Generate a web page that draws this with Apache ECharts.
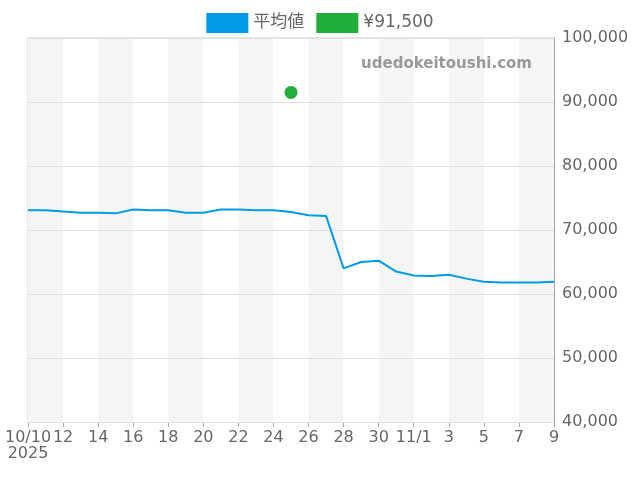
<!DOCTYPE html>
<html><head><meta charset="utf-8">
<script src="https://cdn.jsdelivr.net/npm/echarts@6/dist/echarts.min.js"></script>
<style>html,body{margin:0;padding:0}#c{width:640px;height:480px}</style>
</head><body><div id="c"></div>
<script>
var dates = ['10/10','10/11','10/12','10/13','10/14','10/15','10/16','10/17','10/18','10/19','10/20','10/21','10/22','10/23','10/24','10/25','10/26','10/27','10/28','10/29','10/30','10/31','11/1','11/2','11/3','11/4','11/5','11/6','11/7','11/8','11/9'];
var avgPrice = [73100,73100,72900,72700,72700,72600,73200,73100,73100,72700,72700,73200,73200,73100,73100,72800,72300,72200,64000,65000,65200,63500,62900,62800,63000,62400,61900,61800,61800,61800,61900];
var listing = [['10/25',91500]];

var chart = echarts.init(document.getElementById('c'));
chart.setOption({
    animation: false,
    textStyle: {fontFamily: 'DejaVu Sans'},
    legend: {
        top: 8,
        itemWidth: 42, itemHeight: 20, itemGap: 12,
        textStyle: {fontSize: 17, color: '#666', fontFamily: 'DejaVu Sans, Noto Sans CJK JP'},
        data: [{name: '平均値', icon: 'rect'}, {name: '¥91,500', icon: 'rect'}]
    },
    graphic: [{type: 'text', right: 108, top: 57, z: 100, style: {text: 'udedokeitoushi.com', fill: '#999', font: 'bold 15px DejaVu Sans'}}],
    grid: {left: 28, right: 86, top: 38, bottom: 58, show: true, borderColor: '#ccc', borderWidth: 1},
    xAxis: {
        type: 'category', boundaryGap: false, data: dates, z: 0,
        axisLine: {lineStyle: {color: '#aaa'}},
        axisTick: {show: true, interval: 1, lineStyle: {color: '#aaa'}},
        axisLabel: {
            interval: 1, fontSize: 16, color: '#666',
            formatter: function (v, i) {
                if (i === 0) return v + '\n2025';
                if (v === '11/1') return v;
                return v.split('/')[1];
            }
        },
        splitLine: {show: false},
        splitArea: {show: true, interval: 1, areaStyle: {color: ['#f5f5f5', '#ffffff']}}
    },
    yAxis: {
        type: 'value', position: 'right', min: 40000, max: 100000, interval: 10000, z: 3,
        axisLine: {show: true, lineStyle: {color: '#aaa'}},
        axisLabel: {fontSize: 16, color: '#666', formatter: function (v) { return v.toLocaleString('en-US'); }},
        splitLine: {lineStyle: {color: '#e0e0e0'}}
    },
    series: [
        {name: '平均値', type: 'line', z: 5, data: avgPrice, symbol: 'none', itemStyle: {color: '#039be5'}, lineStyle: {width: 2, color: '#039be5'}},
        {name: '¥91,500', type: 'scatter', z: 5, data: listing, symbolSize: 13, itemStyle: {color: '#22ae3a', opacity: 1}}
    ]
});
</script></body></html>
